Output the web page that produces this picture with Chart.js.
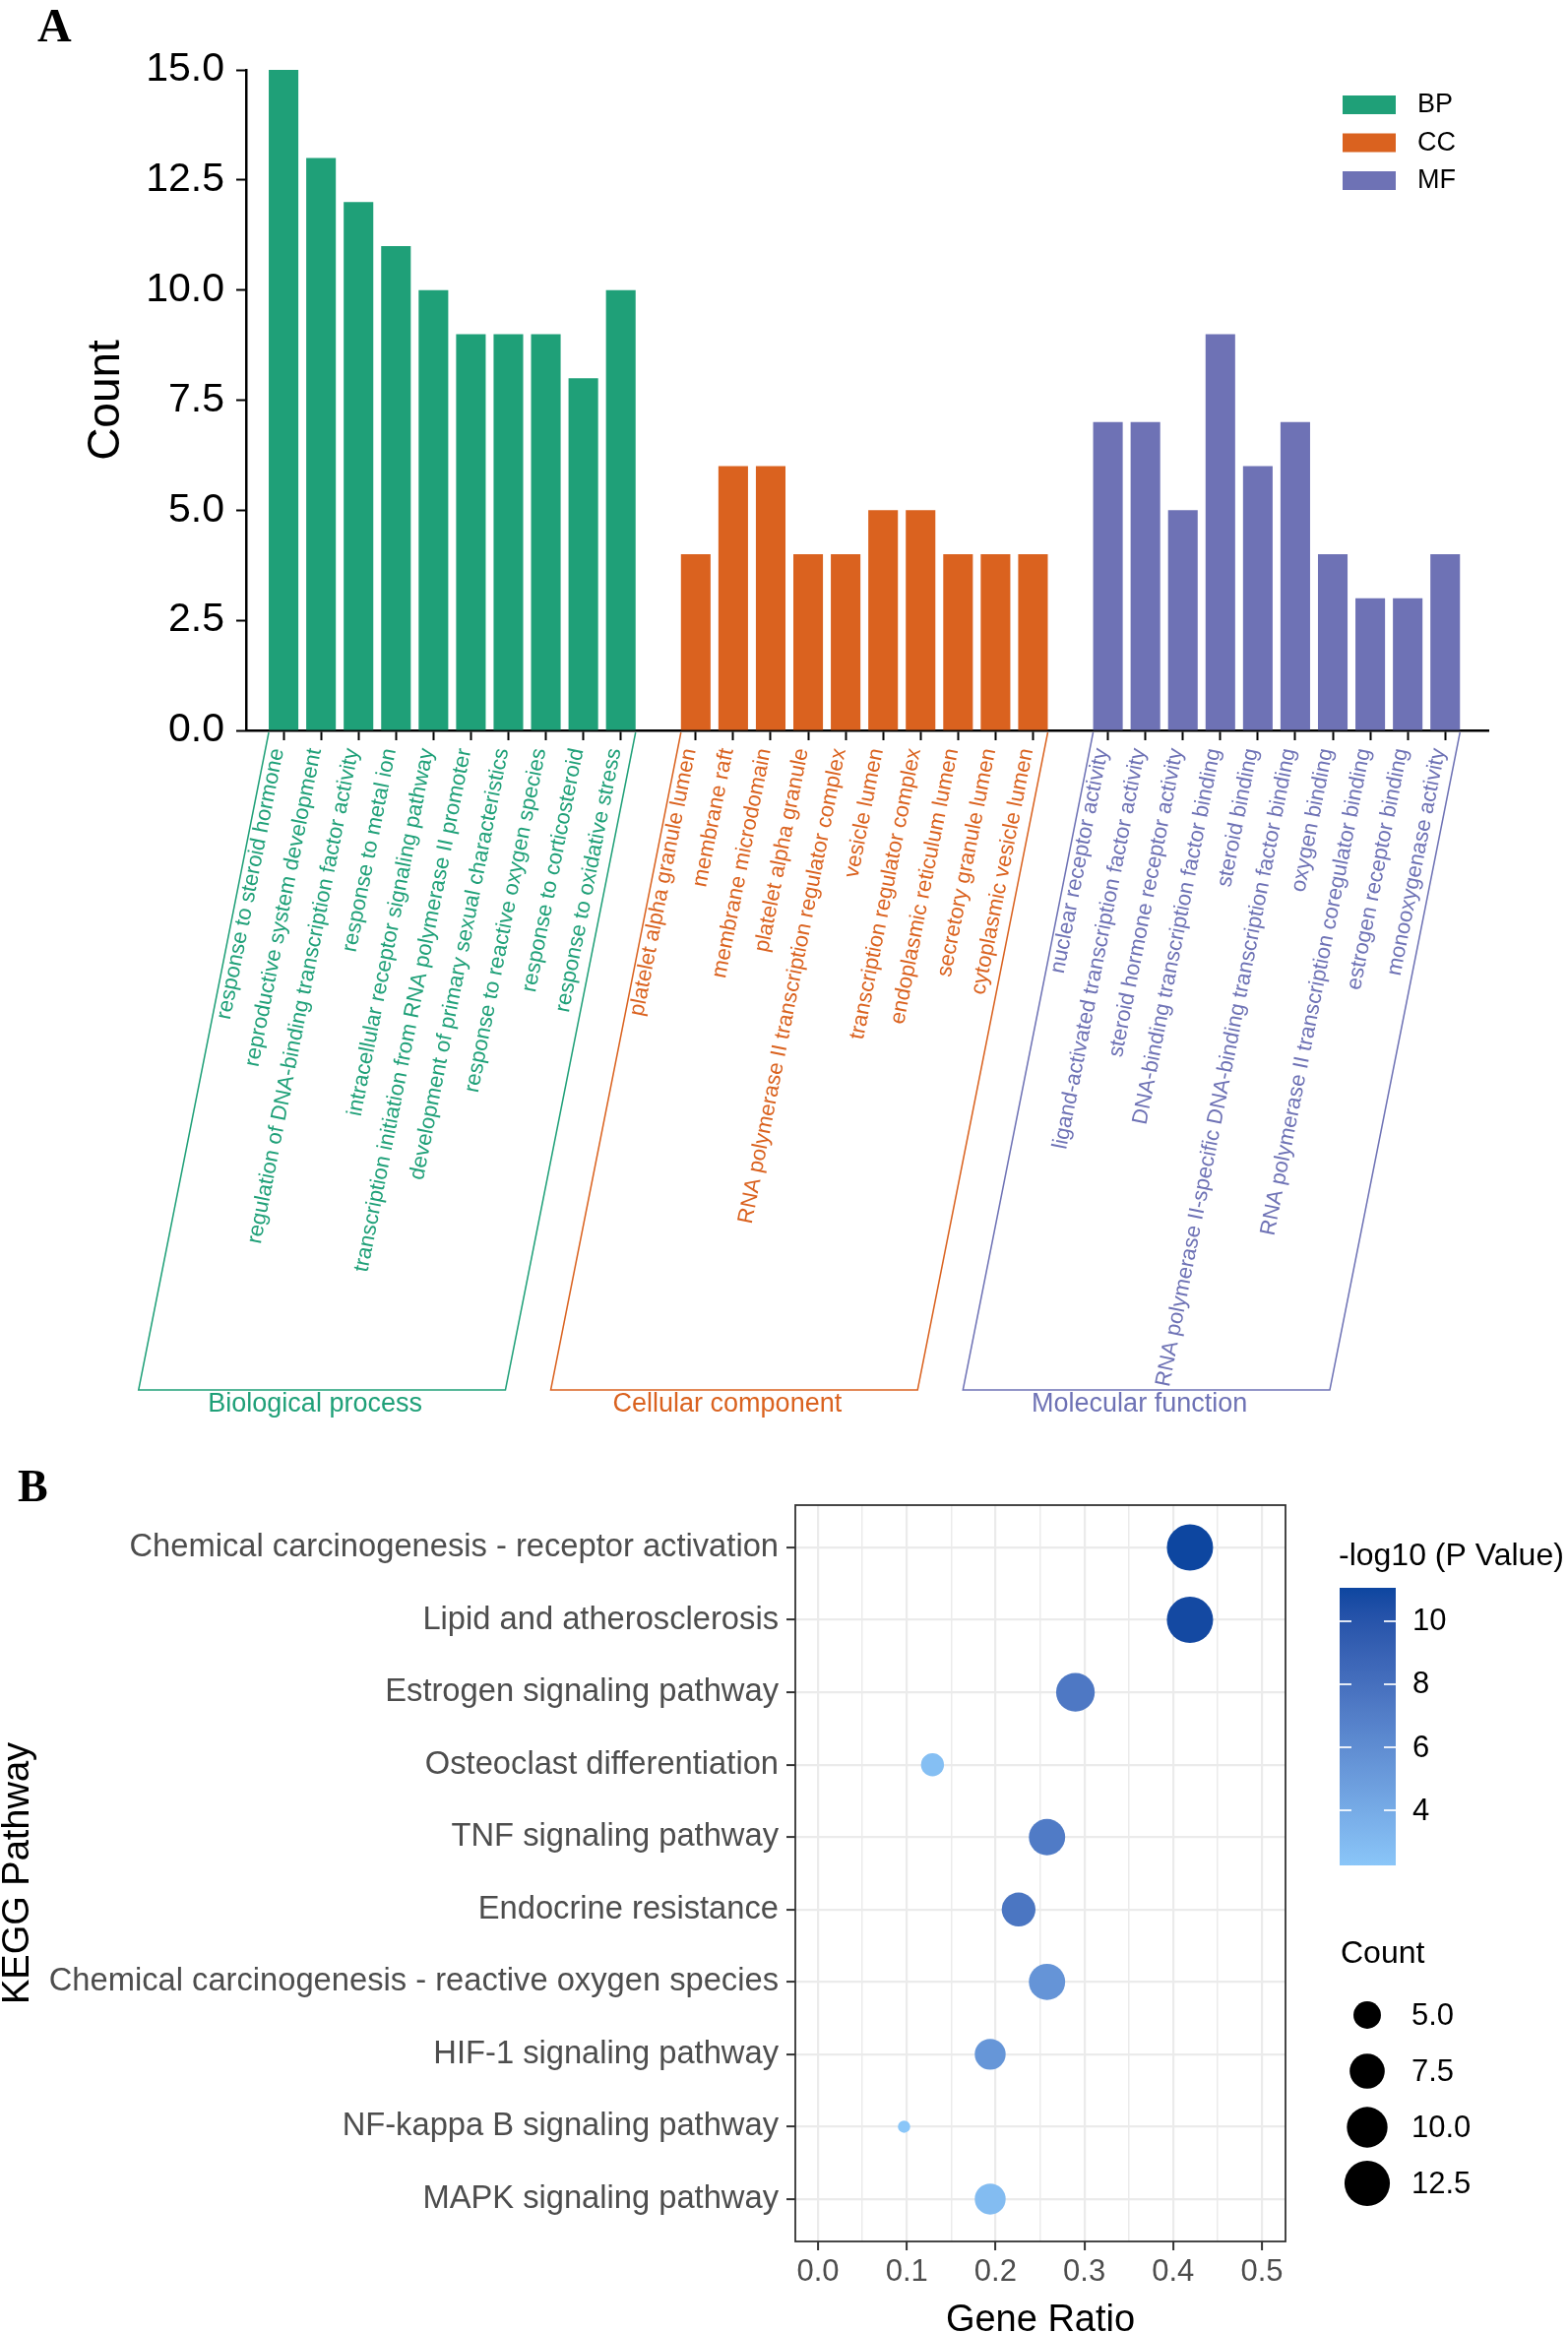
<!DOCTYPE html>
<html lang="en">
<head>
<meta charset="UTF-8">
<title>GO and KEGG enrichment</title>
<script src="https://cdn.jsdelivr.net/npm/chart.js"></script>
<style>
  body { margin: 0; background: #fff; font-family: "Liberation Sans", Arial, sans-serif; }
  #page { position: relative; width: 1593px; height: 2370px; overflow: hidden; background: #fff; }
  .tag { position: absolute; font-family: "Liberation Serif", "Times New Roman", serif; font-weight: bold; line-height: 1; color: #000; }
  #wrapA { position: absolute; left: 0; top: 0; width: 1593px; height: 1450px; }
  #wrapB { position: absolute; left: 0; top: 1450px; width: 1593px; height: 920px; }
</style>
</head>
<body>
<div id="page">
  <div id="wrapA"><canvas id="goChart"></canvas></div>
  <div id="wrapB"><canvas id="keggChart"></canvas></div>
  <div class="tag" style="left:38px;top:2px;font-size:48px">A</div>
  <div class="tag" style="left:18px;top:1487px;font-size:46px">B</div>
</div>

<script>
    // ---- panel A: GO terms ----
    const bpTerms = [
        "response to steroid hormone",
        "reproductive system development",
        "regulation of DNA-binding transcription factor activity",
        "response to metal ion",
        "intracellular receptor signaling pathway",
        "transcription initiation from RNA polymerase II promoter",
        "development of primary sexual characteristics",
        "response to reactive oxygen species",
        "response to corticosteroid",
        "response to oxidative stress"
    ];
    const bpCounts = [15, 13, 12, 11, 10, 9, 9, 9, 8, 10];

    const ccTerms = [
        "platelet alpha granule lumen",
        "membrane raft",
        "membrane microdomain",
        "platelet alpha granule",
        "RNA polymerase II transcription regulator complex",
        "vesicle lumen",
        "transcription regulator complex",
        "endoplasmic reticulum lumen",
        "secretory granule lumen",
        "cytoplasmic vesicle lumen"
    ];
    const ccCounts = [4, 6, 6, 4, 4, 5, 5, 4, 4, 4];

    const mfTerms = [
        "nuclear receptor activity",
        "ligand-activated transcription factor activity",
        "steroid hormone receptor activity",
        "DNA-binding transcription factor binding",
        "steroid binding",
        "RNA polymerase II-specific DNA-binding transcription factor binding",
        "oxygen binding",
        "RNA polymerase II transcription coregulator binding",
        "estrogen receptor binding",
        "monooxygenase activity"
    ];
    const mfCounts = [7, 7, 5, 9, 6, 7, 4, 3, 3, 4];

    const goGroups = ["BP", "CC", "MF"];
    const goGroupNames = ["Biological process", "Cellular component", "Molecular function"];
    const goColors = ["#1FA078", "#DA621F", "#6E72B5"];

    // ---- panel B: KEGG pathways ----
    const keggPathways = [
        "Chemical carcinogenesis - receptor activation",
        "Lipid and atherosclerosis",
        "Estrogen signaling pathway",
        "Osteoclast differentiation",
        "TNF signaling pathway",
        "Endocrine resistance",
        "Chemical carcinogenesis - reactive oxygen species",
        "HIF-1 signaling pathway",
        "NF-kappa B signaling pathway",
        "MAPK signaling pathway"
    ];
    const keggGeneRatio = [0.419, 0.419, 0.290, 0.129, 0.258, 0.226, 0.258, 0.194, 0.097, 0.194];
    const keggCount = [13, 13, 9, 4, 8, 7, 8, 6, 3, 6];
    const keggLogP = [11.06, 10.85, 7.4, 2.7, 7.2, 7.6, 5.5, 5.4, 2.25, 2.9];

    const ratioTicks = [0.0, 0.1, 0.2, 0.3, 0.4, 0.5];
    const logPBreaks = [4, 6, 8, 10];
    const countBreaks = [5.0, 7.5, 10.0, 12.5];

    const FONT = '"Liberation Sans", Arial, sans-serif';
    Chart.defaults.font.family = FONT;

    // ---------- panel A ----------
    const goTerms = [bpTerms, ccTerms, mfTerms];
    const goCounts = [bpCounts, ccCounts, mfCounts];
    const labelAt = {};
    const colorAt = {};
    const goPositions = [];
    let slot = 0;
    const goDatasets = goGroups.map((name, g) => {
        const data = goCounts[g].map((v, i) => {
            labelAt[slot] = goTerms[g][i];
            colorAt[slot] = goColors[g];
            goPositions.push(slot);
            return {x: slot++, y: v};
        });
        slot++; // empty slot between groups
        return {
            label: name,
            data: data,
            backgroundColor: goColors[g],
            grouped: false,
            categoryPercentage: 1,
            barPercentage: 0.79
        };
    });

    const goDecor = {
        id: 'goDecor',
        afterDraw(chart) {
            const ctx = chart.ctx;
            const area = chart.chartArea;
            const rot = chart.scales.x.labelRotation * Math.PI / 180;
            const top = area.bottom + 2;
            const bottom = area.bottom + 670;
            const shift = (bottom - top) / Math.tan(rot);
            ctx.save();
            goGroups.forEach((name, g) => {
                const bars = chart.getDatasetMeta(g).data;
                const left = bars[0].x - bars[0].width / 2;
                const right = bars[bars.length - 1].x + bars[bars.length - 1].width / 2;
                ctx.strokeStyle = goColors[g];
                ctx.lineWidth = 1.5;
                ctx.beginPath();
                ctx.moveTo(left, top);
                ctx.lineTo(left - shift, bottom);
                ctx.lineTo(right - shift, bottom);
                ctx.lineTo(right, top);
                ctx.stroke();
                ctx.fillStyle = goColors[g];
                ctx.font = '27px ' + FONT;
                ctx.textAlign = 'center';
                ctx.textBaseline = 'middle';
                ctx.fillText(goGroupNames[g], (left + right) / 2 - shift - 7, bottom + 15);

                // legend
                ctx.fillRect(1364, 97 + g * 38.5, 54, 19);
                ctx.fillStyle = '#000';
                ctx.textAlign = 'left';
                ctx.fillText(name, 1440, 107 + g * 38.5);
            });
            ctx.restore();
        }
    };

    new Chart(document.getElementById('goChart'), {
        type: 'bar',
        data: {datasets: goDatasets},
        options: {
            responsive: true,
            maintainAspectRatio: false,
            animation: false,
            events: [],
            layout: {padding: {top: 71, right: 81, left: 0, bottom: 0}},
            plugins: {legend: {display: false}, tooltip: {enabled: false}},
            scales: {
                x: {
                    type: 'linear',
                    min: -1,
                    max: 32.15,
                    offset: false,
                    afterBuildTicks: s => { s.ticks = goPositions.map(v => ({value: v})); },
                    afterFit: s => { s.height = 708; },
                    grid: {offset: false, drawOnChartArea: false, tickLength: 10, tickWidth: 2, tickColor: '#000'},
                    border: {color: '#000', width: 2.5},
                    ticks: {
                        autoSkip: false,
                        minRotation: 78.8,
                        maxRotation: 78.8,
                        padding: 6,
                        labelOffset: -6,
                        font: {size: 22},
                        color: c => colorAt[c.tick.value],
                        callback: v => labelAt[v]
                    }
                },
                y: {
                    min: 0,
                    max: 15,
                    afterFit: s => { s.width = 250; },
                    grid: {drawOnChartArea: false, tickLength: 10, tickWidth: 2, tickColor: '#000'},
                    border: {color: '#000', width: 2.5},
                    ticks: {stepSize: 2.5, padding: 12, color: '#000', font: {size: 41}, callback: v => v.toFixed(1)},
                    title: {display: true, text: 'Count', color: '#000', font: {size: 46, lineHeight: 1}, padding: {top: 85, bottom: 0}}
                }
            }
        },
        plugins: [goDecor]
    });

    // ---------- panel B ----------
    const lowColor = '#8AC6F8', highColor = '#0D46A0';
    function hexRgb(h) {
        const n = parseInt(h.slice(1), 16);
        return [n >> 16 & 255, n >> 8 & 255, n & 255];
    }
    function toLab(rgb) {
        const lin = c => { c /= 255; return c <= 0.04045 ? c / 12.92 : Math.pow((c + 0.055) / 1.055, 2.4); };
        const [R, G, B] = rgb.map(lin);
        const X = (0.4124 * R + 0.3576 * G + 0.1805 * B) / 0.95047;
        const Y = 0.2126 * R + 0.7152 * G + 0.0722 * B;
        const Z = (0.0193 * R + 0.1192 * G + 0.9505 * B) / 1.08883;
        const f = t => t > 0.008856 ? Math.cbrt(t) : 7.787 * t + 16 / 116;
        return [116 * f(Y) - 16, 500 * (f(X) - f(Y)), 200 * (f(Y) - f(Z))];
    }
    function fromLab(L, a, b) {
        const fy = (L + 16) / 116, fx = fy + a / 500, fz = fy - b / 200;
        const inv = t => t * t * t > 0.008856 ? t * t * t : (t - 16 / 116) / 7.787;
        const X = inv(fx) * 0.95047, Y = inv(fy), Z = inv(fz) * 1.08883;
        const R = 3.2406 * X - 1.5372 * Y - 0.4986 * Z;
        const G = -0.9689 * X + 1.8758 * Y + 0.0415 * Z;
        const B = 0.0557 * X - 0.2040 * Y + 1.0570 * Z;
        const gam = c => {
            c = c <= 0.0031308 ? 12.92 * c : 1.055 * Math.pow(c, 1 / 2.4) - 0.055;
            return Math.round(Math.min(1, Math.max(0, c)) * 255);
        };
        return `rgb(${gam(R)},${gam(G)},${gam(B)})`;
    }
    const labLow = toLab(hexRgb(lowColor)), labHigh = toLab(hexRgb(highColor));
    const pMin = Math.min(...keggLogP), pMax = Math.max(...keggLogP);
    function colorScale(v) {
        const t = (v - pMin) / (pMax - pMin);
        return fromLab(...labLow.map((l, i) => l + (labHigh[i] - l) * t));
    }
    const cMin = Math.min(...keggCount), cMax = Math.max(...keggCount);
    function sizeScale(c) {
        const t = Math.max(0, (c - cMin) / (cMax - cMin));
        return (12.5 + 34.5 * Math.sqrt(t)) / 2;
    }

    // major breaks plus minor lines halfway between them
    const ratioGrid = [];
    ratioTicks.forEach((v, i) => {
        ratioGrid.push(v);
        if (i < ratioTicks.length - 1) ratioGrid.push((v + ratioTicks[i + 1]) / 2);
    });

    const keggDecor = {
        id: 'keggDecor',
        afterDraw(chart) {
            const ctx = chart.ctx;
            const a = chart.chartArea;
            ctx.save();
            ctx.strokeStyle = '#333';
            ctx.lineWidth = 1.8;
            ctx.strokeRect(a.left, a.top, a.right - a.left, a.bottom - a.top);

            // colour bar
            const bx = 1361, bw = 57, by = 163, bh = 282;
            const grad = ctx.createLinearGradient(0, by + bh, 0, by);
            for (let k = 0; k <= 20; k++) grad.addColorStop(k / 20, colorScale(pMin + (pMax - pMin) * k / 20));
            ctx.fillStyle = grad;
            ctx.fillRect(bx, by, bw, bh);
            ctx.fillStyle = '#000';
            ctx.font = '32px ' + FONT;
            ctx.textBaseline = 'middle';
            ctx.textAlign = 'left';
            ctx.fillText('-log10 (P Value)', 1360, 131);
            ctx.font = '31px ' + FONT;
            logPBreaks.forEach(v => {
                const y = by + bh - (v - pMin) / (pMax - pMin) * bh;
                ctx.strokeStyle = 'rgba(255,255,255,0.85)';
                ctx.lineWidth = 2;
                ctx.beginPath();
                ctx.moveTo(bx, y); ctx.lineTo(bx + 12, y);
                ctx.moveTo(bx + bw - 12, y); ctx.lineTo(bx + bw, y);
                ctx.stroke();
                ctx.fillText(String(v), 1435, y + 1);
            });

            // size legend
            ctx.font = '32px ' + FONT;
            ctx.fillText('Count', 1362, 535);
            ctx.font = '31px ' + FONT;
            countBreaks.forEach((c, i) => {
                const y = 597 + i * 57;
                ctx.beginPath();
                ctx.arc(1389, y, sizeScale(c), 0, Math.PI * 2);
                ctx.fill();
                ctx.fillText(c.toFixed(1), 1434, y + 1);
            });
            ctx.restore();
        }
    };

    new Chart(document.getElementById('keggChart'), {
        type: 'scatter',
        data: {
            datasets: [{
                data: keggPathways.map((p, i) => ({x: keggGeneRatio[i], y: i})),
                pointRadius: c => sizeScale(keggCount[c.dataIndex]),
                pointHoverRadius: c => sizeScale(keggCount[c.dataIndex]),
                pointBackgroundColor: c => colorScale(keggLogP[c.dataIndex]),
                pointBorderWidth: 0
            }]
        },
        options: {
            responsive: true,
            maintainAspectRatio: false,
            animation: false,
            events: [],
            layout: {padding: {top: 79, right: 287, left: 0, bottom: 0}},
            plugins: {legend: {display: false}, tooltip: {enabled: false}},
            scales: {
                x: {
                    type: 'linear',
                    min: -0.0255,
                    max: 0.5266,
                    afterBuildTicks: s => { s.ticks = ratioGrid.map(v => ({value: v})); },
                    afterFit: s => { s.height = 93; },
                    grid: {
                        color: '#EBEBEB',
                        lineWidth: c => c.index % 2 === 0 ? 2.2 : 1.5,
                        tickLength: 9,
                        tickWidth: 2,
                        tickColor: c => c.index % 2 === 0 ? '#333' : 'rgba(0,0,0,0)'
                    },
                    border: {display: false},
                    ticks: {
                        autoSkip: false,
                        maxRotation: 0,
                        padding: 4,
                        color: '#4D4D4D',
                        font: {size: 31},
                        callback: (v, i) => i % 2 === 0 ? v.toFixed(1) : ''
                    },
                    title: {display: true, text: 'Gene Ratio', color: '#000', font: {size: 38, lineHeight: 0.64}, padding: 0}
                },
                y: {
                    type: 'linear',
                    reverse: true,
                    min: -0.585,
                    max: 9.585,
                    afterBuildTicks: s => { s.ticks = keggPathways.map((p, i) => ({value: i})); },
                    afterFit: s => { s.width = 808; },
                    grid: {color: '#EBEBEB', lineWidth: 2.2, tickLength: 9, tickWidth: 2, tickColor: '#333'},
                    border: {display: false},
                    ticks: {autoSkip: false, padding: 8, color: '#4D4D4D', font: {size: 32.7}, callback: v => keggPathways[v]},
                    title: {display: true, text: 'KEGG Pathway', color: '#000', font: {size: 38, lineHeight: 1}, padding: 0}
                }
            }
        },
        plugins: [keggDecor]
    });
</script>
</body>
</html>
